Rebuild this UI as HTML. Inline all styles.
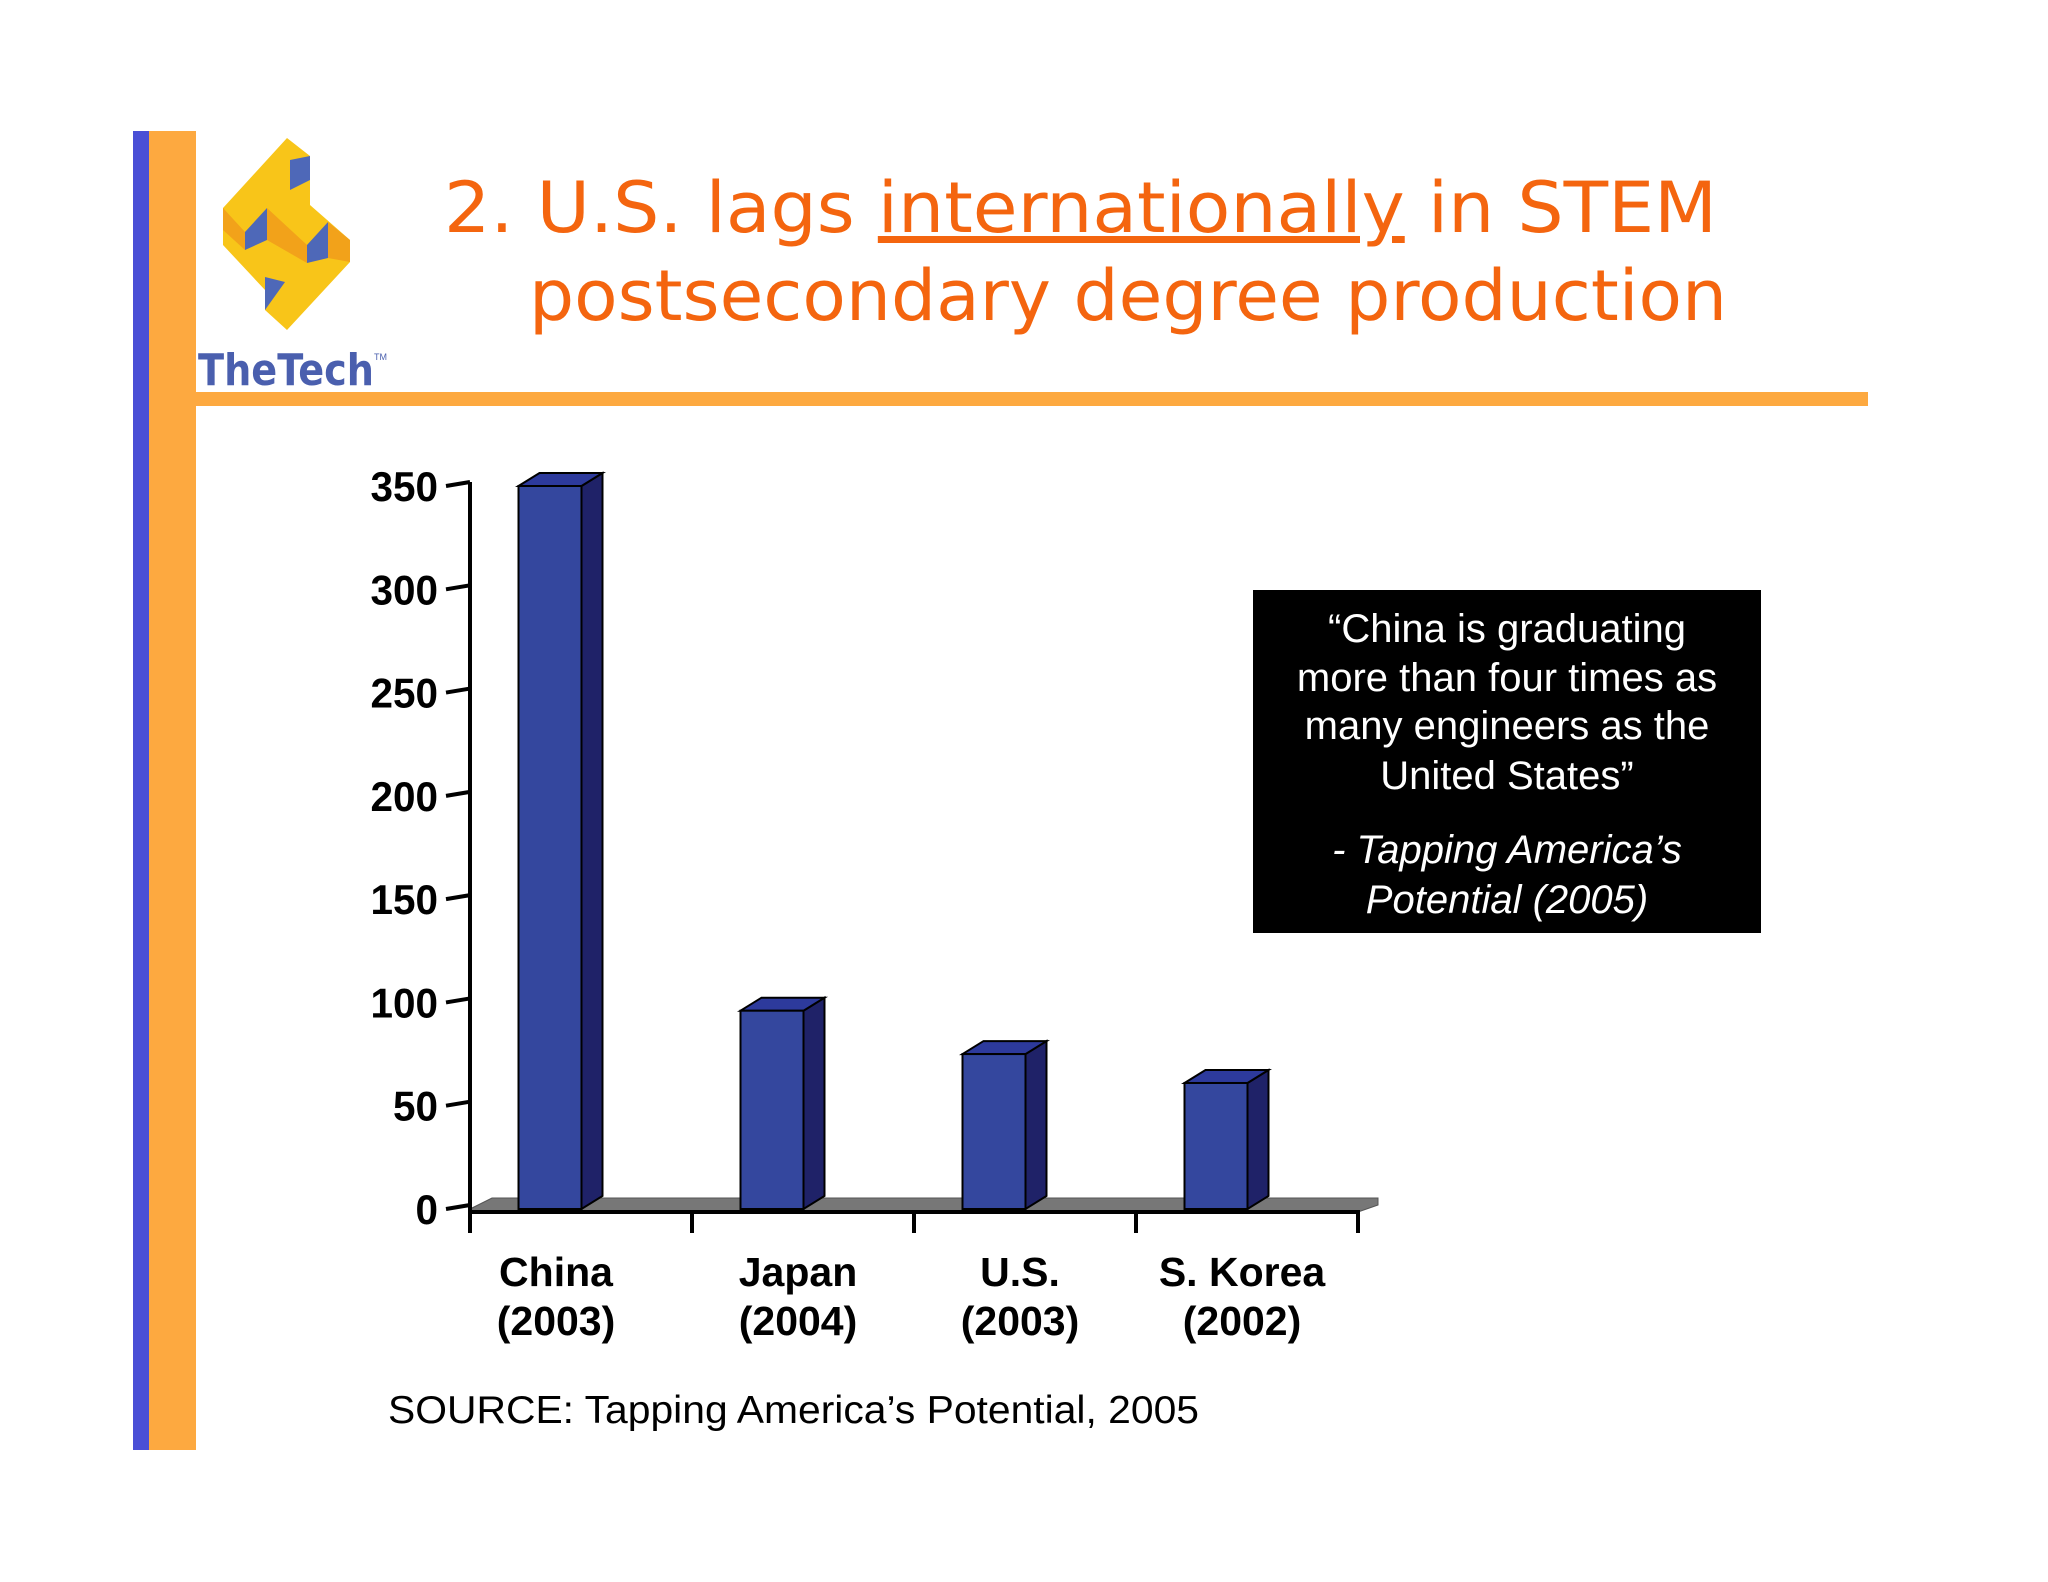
<!DOCTYPE html>
<html><head><meta charset="utf-8">
<style>
html,body{margin:0;padding:0;background:#fff;}
svg{display:block;}
</style></head>
<body>
<svg width="2048" height="1582" viewBox="0 0 2048 1582" xmlns="http://www.w3.org/2000/svg">
  <rect x="0" y="0" width="2048" height="1582" fill="#ffffff"/>
  <rect x="133" y="131" width="16" height="1319" fill="#4a4fd6"/>
  <rect x="149" y="131" width="47" height="1319" fill="#fda940"/>
  <rect x="196" y="392" width="1672" height="14" fill="#fda940"/>

  <g>
    <polygon points="287,138 310,156 310,205 350,240 350,262 287,330 265,310 265,290 223,245 223,208" fill="#f8c519"/>
    <polygon points="223,208 223,230 245,250 245,232" fill="#f2a21a"/>
    <polygon points="245,232 267,208 267,240 245,250" fill="#4e68b8"/>
    <polygon points="267,208 307,245 307,263 267,240" fill="#f2a21a"/>
    <polygon points="307,245 328,222 328,258 307,263" fill="#4e68b8"/>
    <polygon points="328,222 350,240 350,262 328,258" fill="#f2a21a"/>
    <polygon points="290,160 310,156 310,180 290,190" fill="#4e68b8"/>
    <polygon points="265,277 285,282 265,310" fill="#4e68b8"/>
    <text x="198" y="385" font-family="'DejaVu Sans', 'Liberation Sans', sans-serif" font-weight="bold" font-size="44" fill="#4a5fae" textLength="176" lengthAdjust="spacingAndGlyphs">TheTech</text>
    <text x="374" y="360" font-family="'Liberation Sans', sans-serif" font-size="9" fill="#4a5fae">TM</text>
  </g>

  <g font-family="'DejaVu Sans', 'Liberation Sans', sans-serif" font-size="70" fill="#f4650f">
    <text x="444" y="232" textLength="1273" lengthAdjust="spacingAndGlyphs">2. U.S. lags <tspan text-decoration="underline">internationally</tspan> in STEM</text>
    <text x="529" y="320" textLength="1198" lengthAdjust="spacingAndGlyphs">postsecondary degree production</text>
  </g>

  <g id="chart"></g>

  <g>
    <rect x="1253" y="590" width="508" height="343" fill="#000"/>
    <g font-family="'Liberation Sans', sans-serif" font-size="40" fill="#fff" text-anchor="middle">
      <text x="1507" y="642">“China is graduating</text>
      <text x="1507" y="691">more than four times as</text>
      <text x="1507" y="739">many engineers as the</text>
      <text x="1507" y="789">United States”</text>
      <text x="1507" y="863" font-style="italic">- Tapping America’s</text>
      <text x="1507" y="913" font-style="italic">Potential (2005)</text>
    </g>
  </g>

  <text x="388" y="1423" font-family="'Liberation Sans', sans-serif" font-size="39" fill="#000" textLength="811" lengthAdjust="spacingAndGlyphs">SOURCE: Tapping America’s Potential, 2005</text>
</svg>
<script>
const categories = ["China", "Japan", "U.S.", "S. Korea"];
const years = ["(2003)", "(2004)", "(2003)", "(2002)"];
const values = [350, 96, 75, 61];
const yTicks = [0, 50, 100, 150, 200, 250, 300, 350];

const NS = "http://www.w3.org/2000/svg";
const g = document.getElementById("chart");
const axisX = 470, y0 = 1209, yTop = 486, yMax = 350;
const plotLeft = 470, plotRight = 1358;
function yScale(v){ return y0 - (v / yMax) * (y0 - yTop); }
const band = (plotRight - plotLeft) / categories.length;
function xCenter(i){ return plotLeft + band * (i + 0.5) - 31; }
function mk(tag, attrs){ const e = document.createElementNS(NS, tag); for (const k in attrs) e.setAttribute(k, attrs[k]); g.appendChild(e); return e; }

const floor = mk("polygon", {points: `${axisX},1209 ${axisX+22},1198 1378,1198 1378,1205 1358,1212 ${axisX},1212`, fill: "#777", stroke:"#555", "stroke-width":1});



const ya = mk("line", {x1: axisX, y1: yTop-4, x2: axisX, y2: 1233, stroke: "#000", "stroke-width": 4});


const xa = mk("line", {x1: axisX, y1: 1212, x2: 1360, y2: 1212, stroke: "#000", "stroke-width": 4});



yTicks.forEach(t => {
  const y = yScale(t);
  const tk = mk("line", {x1: axisX - 24, y1: y, x2: axisX, y2: y - 4, stroke: "#000", "stroke-width": 4});
  
  
  const s = String(t);
  const lb = mk("text", {x: 438, y: y + 15, "text-anchor": "end", "font-family": "'Liberation Sans', sans-serif", "font-weight": "bold", "font-size": 42, fill: "#000", textLength: 22.5 * s.length, lengthAdjust: "spacingAndGlyphs"});
  lb.textContent = s;
  
  
});

for (let i = 0; i <= categories.length; i++) {
  const x = plotLeft + band * i;
  const tk = mk("line", {x1: x, y1: 1212, x2: x, y2: 1233, stroke: "#000", "stroke-width": 4});
  
  
}

const bw = 63, depth = 21, rise = 13;
values.forEach((v, i) => {
  const cx = xCenter(i);
  const x = cx - bw / 2;
  const yt = yScale(v);
  const side = mk("polygon", {points: `${x+bw},${yt} ${x+bw+depth},${yt-rise} ${x+bw+depth},${y0-rise} ${x+bw},${y0}`, fill: "#1f2268", stroke: "#000", "stroke-width": 2});
  
  
  const top = mk("polygon", {points: `${x},${yt} ${x+depth},${yt-rise} ${x+bw+depth},${yt-rise} ${x+bw},${yt}`, fill: "#2d3a9c", stroke: "#000", "stroke-width": 2});
  
  
  const front = mk("rect", {x: x, y: yt, width: bw, height: y0 - yt, fill: "#34479e", stroke: "#000", "stroke-width": 2});
  
  

  const lx = cx + (i === 0 ? 6 : 26);
  const l1 = mk("text", {x: lx, y: 1286, "text-anchor": "middle", "font-family": "'Liberation Sans', sans-serif", "font-weight": "bold", "font-size": 41, fill: "#000"});
  l1.textContent = categories[i];
  
  
  const l2 = mk("text", {x: lx, y: 1335, "text-anchor": "middle", "font-family": "'Liberation Sans', sans-serif", "font-weight": "bold", "font-size": 41, fill: "#000"});
  l2.textContent = years[i];
  
  
});
</script>
</body></html>
